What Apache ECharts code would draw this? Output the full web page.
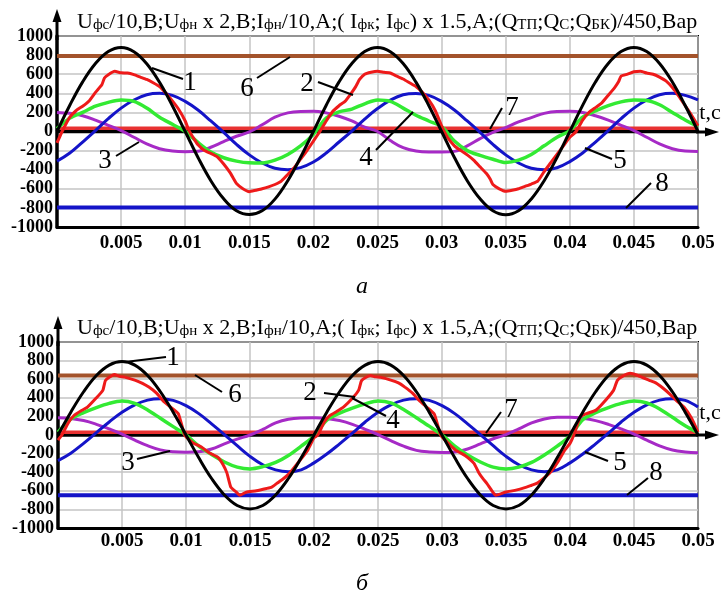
<!DOCTYPE html>
<html>
<head>
<meta charset="utf-8">
<script src="https://cdn.jsdelivr.net/npm/echarts@6/dist/echarts.min.js"></script>
<style>
html,body{margin:0;padding:0;background:#fff;}
#c{width:726px;height:598px;}
</style>
</head>
<body>
<div id="c"></div>
<script>
// ---------- DATA ----------
const tMs = [0,0.001,0.002,0.003,0.004,0.005,0.006,0.007,0.008,0.009,0.010,0.011,0.012,0.013,0.014,0.015,0.016,0.017,0.018,0.019,0.020,
  0.021,0.022,0.023,0.024,0.025,0.026,0.027,0.028,0.029,0.030,0.031,0.032,0.033,0.034,0.035,0.036,0.037,0.038,0.039,0.040,
  0.041,0.042,0.043,0.044,0.045,0.046,0.047,0.048,0.049,0.050];

const xTickLabels = ['0.005','0.01','0.015','0.02','0.025','0.03','0.035','0.04','0.045','0.05'];
const yTickLabels = ['-1000','-800','-600','-400','-200','0','200','400','600','800','1000'];

// panel а
const blackA = [0,275,520,712,838,880,836,710,515,270,0,-272,-515,-705,-830,-870,-830,-708,-515,-270,0,
  275,520,712,838,880,836,712,517,272,0,-272,-515,-705,-830,-872,-830,-706,-515,-272,0,
  273,518,712,837,880,837,712,518,272,0];
const greenA = [30,140,200,265,305,330,315,245,150,75,0,-115,-215,-275,-310,-328,-330,-300,-240,-150,-30,
  140,205,235,290,330,315,245,170,110,50,-100,-200,-250,-290,-325,-300,-240,-150,-60,10,
  150,215,270,310,330,325,280,200,120,50];
const blueA = [-310,-225,-110,10,135,245,330,385,400,378,315,225,110,-10,-135,-245,-330,-385,-400,-378,-320,
  -225,-110,5,130,240,328,385,398,378,315,225,110,-10,-135,-245,-330,-385,-400,-380,-315,
  -225,-110,10,135,245,330,385,400,378,330];
const purpleA = [200,190,165,120,65,10,-60,-130,-180,-205,-212,-208,-165,-105,-50,-5,70,150,195,210,212,
  195,160,110,45,0,-95,-170,-205,-215,-215,-208,-150,-75,-10,40,100,145,190,210,212,
  200,165,120,65,10,-60,-130,-180,-205,-210];
const redAt = [0,0.0004,0.001,0.0015,0.002,0.0025,0.003,0.0035,0.0037,0.004,0.0045,0.005,0.0055,0.006,0.0065,0.007,0.0075,0.008,0.0085,0.009,0.0095,0.01,
  0.0103,0.0107,0.011,0.0115,0.012,0.0125,0.013,0.0135,0.0138,0.014,0.0145,0.015,0.0155,0.016,0.0165,0.017,0.0175,0.018,0.0185,0.019,0.0195,0.02,
  0.0205,0.021,0.0215,0.022,0.0225,0.023,0.0233,0.0236,0.024,0.0245,0.025,0.0255,0.026,0.0265,0.027,0.0275,0.028,0.0285,0.029,0.0295,0.03,
  0.0302,0.0305,0.031,0.0315,0.032,0.0325,0.033,0.0335,0.0338,0.034,0.0345,0.035,0.0355,0.036,0.0365,0.037,0.0375,0.038,0.0385,0.039,0.0395,0.04,
  0.0405,0.041,0.0415,0.042,0.0425,0.043,0.0435,0.0438,0.044,0.0445,0.045,0.0455,0.046,0.0465,0.047,0.0475,0.048,0.0485,0.049,0.0495,0.05];
const redAv = [-120,0,150,220,265,320,410,490,560,595,630,615,612,595,570,545,510,470,400,320,230,110,
  10,-80,-140,-200,-230,-265,-340,-430,-500,-545,-600,-630,-615,-600,-580,-555,-520,-450,-380,-290,-200,-100,
  0,110,210,270,320,410,470,545,600,620,630,620,612,580,550,510,470,410,330,220,60,
  0,-70,-150,-200,-245,-300,-370,-440,-500,-555,-600,-625,-615,-600,-575,-550,-520,-420,-330,-240,-150,-60,
  0,120,200,250,300,380,460,520,580,600,625,630,612,600,570,530,460,370,270,170,60];
const levelsA = {brown: 790, red: 35, zero: 0, blue: -795};

// panel б
const blackB = [0,245,465,640,752,790,752,640,465,245,0,-245,-468,-645,-758,-795,-758,-645,-468,-245,0,
  245,465,640,752,790,752,640,465,245,0,-245,-468,-645,-758,-795,-758,-645,-468,-245,0,
  245,465,640,752,790,752,640,465,245,0];
const greenB = [30,170,240,295,340,365,340,270,180,90,0,-120,-210,-290,-345,-365,-340,-295,-220,-120,-10,
  160,235,290,335,365,345,275,185,95,0,-120,-215,-290,-345,-365,-345,-295,-215,-120,-10,
  165,240,295,340,365,345,280,190,100,25];
const blueB = [-275,-195,-90,25,140,245,325,375,390,372,315,230,120,5,-115,-230,-320,-375,-395,-375,-300,
  -205,-95,20,140,245,325,375,390,372,315,230,120,5,-115,-230,-320,-375,-395,-375,-300,
  -205,-95,20,140,245,325,375,390,372,300];
const purpleB = [185,178,155,115,65,10,-55,-115,-160,-180,-185,-180,-150,-95,-45,0,60,130,170,183,185,
  178,155,115,60,5,-60,-120,-165,-183,-188,-182,-150,-95,-40,5,65,130,172,190,192,
  180,155,115,65,10,-55,-118,-162,-182,-190];
const redBt = [0,0.0003,0.0008,0.00125,0.0018,0.0023,0.003,0.0035,0.0037,0.004,0.0044,0.0048,0.0052,0.006,0.0066,0.0071,0.0077,0.0082,0.0088,0.0094,0.0099,
  0.0105,0.0112,0.0118,0.0125,0.0129,0.0132,0.0135,0.0139,0.0142,0.0147,0.0155,0.0163,0.0167,0.0171,0.0176,0.0181,0.0188,0.0195,0.02,
  0.0203,0.0208,0.02125,0.0218,0.0223,0.023,0.0235,0.0237,0.024,0.0244,0.0248,0.0252,0.026,0.0266,0.0271,0.0277,0.0282,0.0288,0.0294,0.0299,
  0.0305,0.0311,0.0318,0.0325,0.0329,0.0332,0.0335,0.0339,0.0342,0.035,0.0357,0.0366,0.037,0.0374,0.0379,0.0384,0.039,0.0396,0.04,
  0.0403,0.0408,0.0413,0.042,0.0425,0.0434,0.0437,0.0441,0.0447,0.0453,0.0462,0.0467,0.0473,0.0478,0.0483,0.0489,0.0495,0.05];
const redBv = [-55,0,130,210,260,300,400,480,585,620,650,630,622,590,555,515,450,370,300,230,0,
  -80,-130,-190,-240,-320,-410,-560,-610,-648,-615,-600,-575,-560,-520,-470,-410,-290,-165,-30,
  0,140,210,255,300,395,485,580,615,640,625,620,590,560,515,450,375,300,225,0,
  -90,-165,-220,-305,-412,-470,-520,-600,-648,-613,-595,-560,-540,-520,-470,-412,-300,-160,-90,
  0,194,230,265,330,480,588,630,663,640,588,560,500,440,373,300,180,32];
const levelsB = {brown: 640, red: 30, zero: 0, blue: -648};

// ---------- CHART ----------
const SERIF = '"Liberation Serif","DejaVu Serif",serif';
const C = {black:'#000000', red:'#ee1a1a', green:'#33ea33', blue:'#1414c8', purple:'#a62ac6', brown:'#a3532b', red7:'#e83232'};
const gridA = {left:57, top:36, width:641, height:191};
const gridB = {left:58, top:342, width:640, height:186};

function xAxisDef(idx, margin){
  return {type:'value', gridIndex:idx, min:0, max:0.05, interval:0.005,
    axisLine:{show:true, onZero:false, lineStyle:{color:'#000', width:3}},
    axisTick:{show:false},
    splitLine:{show:true, lineStyle:{color:'#c4c4c4', width:1.5}},
    axisLabel:{margin:margin, color:'#000', fontFamily:SERIF, fontSize:19, fontWeight:'bold',
      formatter:function(v){ const k=Math.round(v/0.005); return k===0?'':xTickLabels[k-1]; }}
  };
}
function yAxisDef(idx){
  return {type:'value', gridIndex:idx, min:-1000, max:1000, interval:200,
    axisLine:{show:true, lineStyle:{color:'#000', width:3.5}},
    axisTick:{show:false},
    splitLine:{show:true, lineStyle:{color:'#c4c4c4', width:1.5}},
    axisLabel:{margin:4, color:'#000', fontFamily:SERIF, fontSize:18, fontWeight:'bold',
      formatter:function(v){ return yTickLabels[Math.round((v+1000)/200)]; }}
  };
}
function lineS(idx, data, color, width, smooth, z){
  return {type:'line', xAxisIndex:idx, yAxisIndex:idx, data:data, showSymbol:false, smooth:smooth,
    lineStyle:{color:color, width:width}, z:z, silent:true, animation:false};
}
function zip(ts, vs){ return ts.map((t,i)=>[t, vs[i]]); }
function levelLine(v){ return [[0,v],[0.05,v]]; }

function panelSeries(idx, black, green, blue, purple, rt, rv, lv){
  return [
    lineS(idx, levelLine(lv.brown), C.brown, 4, false, 2),
    lineS(idx, levelLine(lv.blue), C.blue, 4, false, 2),
    lineS(idx, levelLine(lv.zero), C.black, 3.5, false, 2),
    lineS(idx, levelLine(lv.red), C.red7, 3.5, false, 3),
    lineS(idx, zip(tMs, purple), C.purple, 3, 0.4, 4),
    lineS(idx, zip(tMs, blue), C.blue, 3, 0.4, 5),
    lineS(idx, zip(tMs, green), C.green, 3.5, 0.3, 6),
    lineS(idx, zip(rt, rv), C.red, 3, 0.15, 7),
    lineS(idx, zip(tMs, black), C.black, 3, 0.4, 8)
  ];
}

const titleText = 'U{s|фс}/10,В;U{s|фн} x 2,В;I{s|фн}/10,А;( I{s|фк}; I{s|фс}) x 1.5,А;(Q{s|ТП};Q{s|С};Q{s|БК})/450,Вар';
function titleDef(top){
  return {text:titleText, left:72, top:top,
    textStyle:{fontFamily:SERIF, fontSize:22, fontWeight:'normal', color:'#000',
      rich:{s:{fontFamily:SERIF, fontSize:15, color:'#000', verticalAlign:'bottom'}}}};
}

const chart = echarts.init(document.getElementById('c'), null, {renderer:'canvas'});
chart.setOption({
  backgroundColor:'#fff',
  animation:false,
  title:[titleDef(6), titleDef(312)],
  grid:[
    Object.assign({show:true, borderColor:'#000', borderWidth:2}, gridA),
    Object.assign({show:true, borderColor:'#000', borderWidth:2}, gridB)
  ],
  xAxis:[xAxisDef(0,7), xAxisDef(1,4)],
  yAxis:[yAxisDef(0), yAxisDef(1)],
  series: panelSeries(0, blackA, greenA, blueA, purpleA, redAt, redAv, levelsA)
    .concat(panelSeries(1, blackB, greenB, blueB, purpleB, redBt, redBv, levelsB))
});

// ---------- ANNOTATIONS ----------
function txt(s, x, y, size, italic){
  return {type:'text', x:x, y:y, z:100, style:{text:s, fill:'#000', font:(italic?'italic ':'')+size+'px '+SERIF, align:'center', verticalAlign:'middle'}};
}
function seg(x1,y1,x2,y2){
  return {type:'line', z:100, shape:{x1:x1,y1:y1,x2:x2,y2:y2}, style:{stroke:'#000', lineWidth:2}};
}
function arrowUp(x, yb, yt){
  return [
    {type:'line', z:100, shape:{x1:x, y1:yb, x2:x, y2:yt+6}, style:{stroke:'#000', lineWidth:3}},
    {type:'polygon', z:100, shape:{points:[[x,yt],[x-4.5,yt+13],[x+4.5,yt+13]]}, style:{fill:'#000'}}
  ];
}
function arrowRight(xl, xr, y){
  return [
    {type:'line', z:100, shape:{x1:xl, y1:y, x2:xr-6, y2:y}, style:{stroke:'#000', lineWidth:3}},
    {type:'polygon', z:100, shape:{points:[[xr,y],[xr-14,y-4.5],[xr-14,y+4.5]]}, style:{fill:'#000'}}
  ];
}
const g = [];
// panel а
g.push(...arrowUp(57, 40, 9), ...arrowRight(696, 719, 132));
g.push(txt('1',190,83,27), seg(152,68,183,79));
g.push(txt('6',247,89,27), seg(257,78,290,57));
g.push(txt('2',307,84,27), seg(318,82,353,95));
g.push(txt('3',105,161,27), seg(116,156,139,142));
g.push(txt('4',366,158,27), seg(376,150,413,112));
g.push(txt('7',512,108,27), seg(502,108,490,129));
g.push(txt('5',620,161,27), seg(612,159,585,148));
g.push(txt('8',662,184,27), seg(651,183,626,208));
g.push(txt('t,c',710,113,22));
g.push(txt('а',362,287,24,true));
// panel б
g.push(...arrowUp(58, 346, 316), ...arrowRight(696, 719, 435));
g.push(txt('1',173,358,27), seg(125,362,166,357));
g.push(txt('6',235,395,27), seg(195,375,222,392));
g.push(txt('2',310,393,27), seg(324,393,355,397));
g.push(txt('4',393,421,27), seg(352,398,386,416));
g.push(txt('7',511,410,27), seg(501,412,486,433));
g.push(txt('3',128,463,27), seg(137,459,170,451));
g.push(txt('5',620,463,27), seg(608,461,585,452));
g.push(txt('8',656,473,27), seg(648,478,627,495));
g.push(txt('t,c',710,413,22));
g.push(txt('б',362,584,24,true));
chart.setOption({graphic:g});
</script>
</body>
</html>
